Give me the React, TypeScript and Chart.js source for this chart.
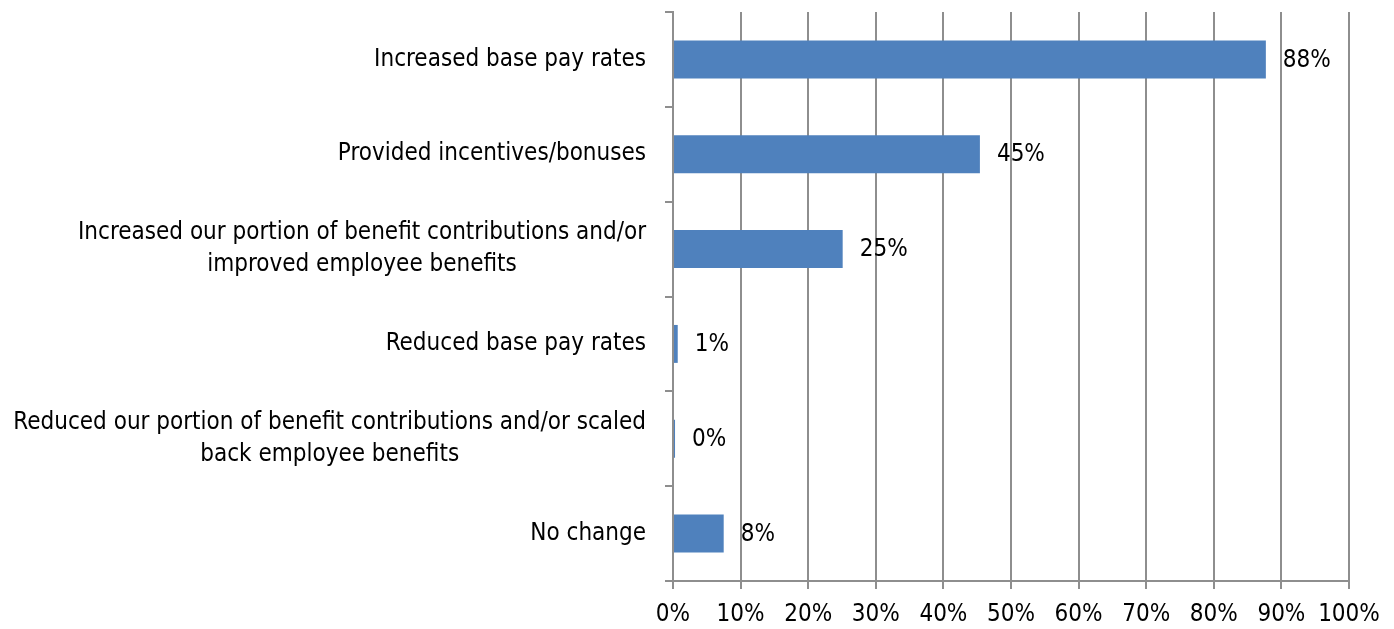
import React, { useEffect, useRef } from "react";
import { Chart, registerables } from "chart.js";

Chart.register(...registerables);

const categories: string[][] = [
  ["Increased base pay rates"],
  ["Provided incentives/bonuses"],
  ["Increased our portion of benefit contributions and/or", "improved employee benefits"],
  ["Reduced base pay rates"],
  ["Reduced our portion of benefit contributions and/or scaled", "back employee benefits"],
  ["No change"],
];
const values: number[] = [87.7, 45.4, 25.1, 0.7, 0.3, 7.5];
const valueLabels: string[] = ["88%", "45%", "25%", "1%", "0%", "8%"];
const xTicks: number[] = [0, 10, 20, 30, 40, 50, 60, 70, 80, 90, 100];

const FONT_FAMILY = '"Liberation Sans Narrow", "DejaVu Sans Condensed", "Liberation Sans", sans-serif';
const FONT_SIZE = 24;
const GRID = "#8e8e8e";
const BAR = "#4f81bd";

export default function App() {
  const ref = useRef<HTMLCanvasElement | null>(null);

  useEffect(() => {
    if (!ref.current) return;
    const labelPlugin = {
      id: "customLabels",
      afterDraw(chart: any) {
        const ctx = chart.ctx;
        const yScale = chart.scales.y;
        const xScale = chart.scales.x;
        ctx.save();
        ctx.font = `${FONT_SIZE}px ${FONT_FAMILY}`;
        ctx.fillStyle = "#000";
        ctx.textBaseline = "middle";
        const rightEdge = yScale.right - 27;
        const lineH = 32;
        categories.forEach((lines, i) => {
          const cy = yScale.getPixelForValue(i);
          const widths = lines.map((l) => ctx.measureText(l).width);
          const maxW = Math.max(...widths);
          const cx = rightEdge - maxW / 2;
          ctx.textAlign = "center";
          lines.forEach((l, j) => {
            const y = cy + (j - (lines.length - 1) / 2) * lineH;
            ctx.fillText(l, cx, y);
          });
        });
        ctx.textAlign = "left";
        const meta = chart.getDatasetMeta(0);
        meta.data.forEach((bar: any, i: number) => {
          const x = xScale.getPixelForValue(values[i]) + 17;
          ctx.fillText(valueLabels[i], x, bar.y + 1);
        });
        ctx.restore();
      },
    };

    const chart = new Chart(ref.current, {
      type: "bar",
      data: {
        labels: categories.map((c) => c.join(" ")),
        datasets: [
          {
            data: values,
            backgroundColor: BAR,
            borderWidth: 0,
            barPercentage: 0.4,
            categoryPercentage: 1,
          },
        ],
      },
      options: {
        indexAxis: "y",
        animation: false,
        responsive: true,
        maintainAspectRatio: false,
        layout: { padding: { top: 4, right: 37, left: 0, bottom: 0 } },
        plugins: { legend: { display: false }, tooltip: { enabled: false } },
        scales: {
          x: {
            type: "linear",
            min: 0,
            max: 100,
            afterBuildTicks: (scale: any) => {
              scale.ticks = xTicks.map((v) => ({ value: v }));
            },
            ticks: {
              callback: (v: any) => v + "%",
              color: "#000",
              font: { family: FONT_FAMILY, size: FONT_SIZE },
              padding: 11,
              maxRotation: 0,
            },
            grid: { color: GRID, lineWidth: 2, tickLength: 8 },
            border: { color: GRID, width: 2 },
            afterFit: (scale: any) => {
              scale.height = 40;
              scale.paddingLeft = 0;
              scale.paddingRight = 0;
            },
          },
          y: {
            type: "category",
            ticks: { display: false },
            grid: { drawOnChartArea: false, color: GRID, lineWidth: 2, tickLength: 8, offset: true },
            border: { color: GRID, width: 2 },
            afterFit: (scale: any) => {
              scale.width = 665;
              scale.paddingTop = 0;
              scale.paddingBottom = 0;
            },
          },
        },
      },
      plugins: [labelPlugin],
    } as any);
    return () => chart.destroy();
  }, []);

  return (
    <div style={{ width: 1378, height: 613, position: "relative" }}>
      <canvas ref={ref} />
    </div>
  );
}
